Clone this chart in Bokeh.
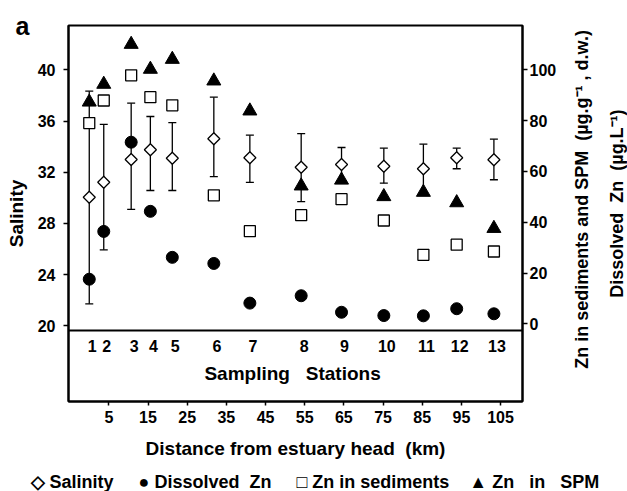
import math
from bokeh.plotting import figure
from bokeh.layouts import row, column
from bokeh.models import (Range1d, LinearAxis, FixedTicker, Whisker, TeeHead,
                          ColumnDataSource, Span, Label, Title)
from bokeh.core.properties import value
from bokeh.embed import file_html
from bokeh.resources import INLINE

# ---------------- data ----------------
stations = ["1", "2", "3", "4", "5", "6", "7", "8", "9", "10", "11", "12", "13"]
distance_km = [0.0, 3.7, 10.7, 15.6, 21.2, 31.8, 41.0, 54.1, 64.4, 75.2, 85.3, 93.8, 103.3]
salinity = [30.05, 31.22, 32.99, 33.75, 33.09, 34.61, 33.13, 32.39, 32.60, 32.47, 32.27, 33.13, 32.97]
salinity_upper = [38.33, 35.73, 37.39, 36.35, 35.88, 37.86, 34.89, 35.02, 33.93, 33.88, 34.19, 33.88, 34.58]
salinity_lower = [21.72, 25.94, 29.09, 30.57, 30.57, 31.66, 31.20, 29.71, 31.27, 31.14, 30.35, 32.27, 31.41]
dissolved_zn = [17.6, 36.4, 71.5, 44.3, 26.2, 23.8, 8.2, 11.1, 4.6, 3.3, 3.2, 6.0, 4.0]
zn_sediments = [79.0, 87.9, 97.8, 89.2, 86.0, 50.6, 36.5, 42.8, 49.1, 40.7, 27.2, 31.2, 28.5]
zn_spm = [87.3, 94.3, 110.0, 100.2, 104.1, 95.6, 83.8, 54.3, 56.6, 50.1, 51.8, 47.7, 37.6]

salinity_ticks = [20, 24, 28, 32, 36, 40]
zn_ticks = [0, 20, 40, 60, 80, 100]
distance_ticks = [5, 15, 25, 35, 45, 55, 65, 75, 85, 95, 105]
legend_entries = [("\u25c7", "Salinity"), ("\u25cf", "Dissolved\u00a0 Zn"),
                  ("\u25a1", "Zn in sediments"), ("\u25b2", "Zn\u00a0\u00a0 in\u00a0\u00a0 SPM")]
right_titles = ["Zn in sediments and SPM\u00a0 (\u00b5g.g\u207b\u00b9 , d.w.)",
                "Dissolved\u00a0 Zn\u00a0 (\u00b5g.L\u207b\u00b9)"]

FONT = "Liberation Sans"
NB = "\u00a0"

# ---------------- main figure ----------------
p = figure(width=560, height=465, output_backend="svg", toolbar_location=None,
           x_range=Range1d(-5.3, 110.6), y_range=Range1d(14.09, 43.46),
           min_border_left=68, min_border_right=38, min_border_top=25,
           min_border_bottom=64)
p.extra_y_ranges = {"zn": Range1d(-30.5, 117.4)}
p.xgrid.visible = False
p.ygrid.visible = False
p.outline_line_color = "black"
p.outline_line_width = 2
p.background_fill_color = "white"
p.border_fill_color = "white"

# panel letter
p.title.text = "a"
p.title.align = "left"
p.title.offset = -53
p.title.standoff = -29
p.title.vertical_align = "bottom"
p.title.text_font = FONT
p.title.text_font_style = "bold"
p.title.text_font_size = "25px"
p.title.text_color = "black"

def style_axis(ax, size="16px"):
    ax.axis_line_width = 2
    ax.axis_line_color = "black"
    ax.major_tick_line_width = 1.5
    ax.major_tick_line_color = "black"
    ax.major_tick_out = 5
    ax.major_tick_in = 0
    ax.minor_tick_line_color = None
    ax.major_label_text_font = FONT
    ax.major_label_text_font_style = "bold"
    ax.major_label_text_font_size = size
    ax.major_label_text_color = "black"
    ax.axis_label_text_font = FONT
    ax.axis_label_text_font_style = "bold"
    ax.axis_label_text_font_size = "19px"
    ax.axis_label_text_color = "black"

xa = p.xaxis[0]
xa.ticker = FixedTicker(ticks=distance_ticks)
style_axis(xa)
xa.major_tick_out = 4
xa.major_label_standoff = 5
xa.axis_label = "Distance from estuary head" + NB + " (km)"
xa.axis_label_standoff = 12

ya = p.yaxis[0]
ya.ticker = FixedTicker(ticks=salinity_ticks)
style_axis(ya)
ya.major_label_standoff = 8
ya.axis_label = "Salinity"
ya.axis_label_standoff = 8

ra = LinearAxis(y_range_name="zn", ticker=FixedTicker(ticks=zn_ticks))
style_axis(ra)
ra.major_label_standoff = 2
p.add_layout(ra, "right")

# separator between plot area and station-label strip (bottom of upper panel)
p.add_layout(Span(location=19.63, dimension="width", line_color="black", line_width=2))

src = ColumnDataSource(dict(x=distance_km, sal=salinity, up=salinity_upper,
                            lo=salinity_lower, dz=dissolved_zn, sed=zn_sediments,
                            spm=zn_spm, st=stations))

wh = Whisker(source=src, base="x", upper="up", lower="lo", line_color="black",
             line_width=1.3, level="underlay",
             upper_head=TeeHead(size=8, line_color="black", line_width=1.3),
             lower_head=TeeHead(size=8, line_color="black", line_width=1.3))
p.add_layout(wh)

p.scatter("x", "sed", source=src, y_range_name="zn", marker="square", size=11,
          fill_color="white", line_color="black", line_width=1.3)
p.scatter("x", "dz", source=src, y_range_name="zn", marker="circle", size=12,
          fill_color="black", line_color="black")
p.scatter("x", "spm", source=src, y_range_name="zn", marker="triangle", size=14,
          fill_color="black", line_color="black")
p.scatter("x", "sal", source=src, marker="square", angle=math.pi / 4, size=8.5,
          fill_color="white", line_color="black", line_width=1.3)

# station numbers inside the strip
p.text(x="x", y=18.46, text="st", source=src, x_offset=3,
       text_font=value(FONT), text_font_style="bold", text_font_size="16px",
       text_align="center", text_baseline="middle", text_color="black")
p.add_layout(Label(x=51.9, y=16.27, text="Sampling" + NB + NB + " Stations",
                   text_font=FONT, text_font_style="bold", text_font_size="19px",
                   text_align="center", text_baseline="middle", text_color="black"))

# ---------------- right strip: titles of the right-hand axis ----------------
rf = figure(width=67, height=465, output_backend="svg", toolbar_location=None,
            x_range=Range1d(0, 67), y_range=p.y_range,
            x_axis_location=None, y_axis_location=None,
            min_border_left=0, min_border_right=0, min_border_top=25,
            min_border_bottom=64)
rf.xgrid.visible = False
rf.ygrid.visible = False
rf.outline_line_color = None
rf.background_fill_color = "white"
rf.border_fill_color = "white"
rf.add_layout(Label(x=21.5, y=29.87, angle=math.pi / 2, text=right_titles[0],
                    text_font=FONT, text_font_style="bold", text_font_size="18px",
                    text_align="center", text_baseline="middle", text_color="black"))
rf.add_layout(Label(x=56, y=29.55, angle=math.pi / 2, text=right_titles[1],
                    text_font=FONT, text_font_style="bold", text_font_size="18px",
                    text_align="center", text_baseline="middle", text_color="black"))

# ---------------- bottom strip: key (symbols written as text, as in the original) ----------------
lg = figure(width=627, height=26, output_backend="svg", toolbar_location=None,
            x_range=Range1d(0, 1), y_range=Range1d(0, 1),
            x_axis_location=None, y_axis_location=None,
            min_border_left=68, min_border_right=105, min_border_top=0,
            min_border_bottom=0)
lg.xgrid.visible = False
lg.ygrid.visible = False
lg.outline_line_color = None
lg.background_fill_color = "white"
lg.border_fill_color = "white"

gaps = [NB * 5, NB * 5, NB * 4]
key_text = ""
for i, (sym, lab) in enumerate(legend_entries):
    key_text += sym + " " + lab
    if i < len(gaps):
        key_text += gaps[i]
lg.add_layout(Title(text=key_text, align="left", offset=-38, standoff=0,
                    vertical_align="bottom", text_font=FONT, text_font_style="bold",
                    text_font_size="18px", text_color="black"), "below")

page = column(row(p, rf, spacing=0), lg, spacing=0)
open("out.html", "w").write(file_html(page, INLINE))
